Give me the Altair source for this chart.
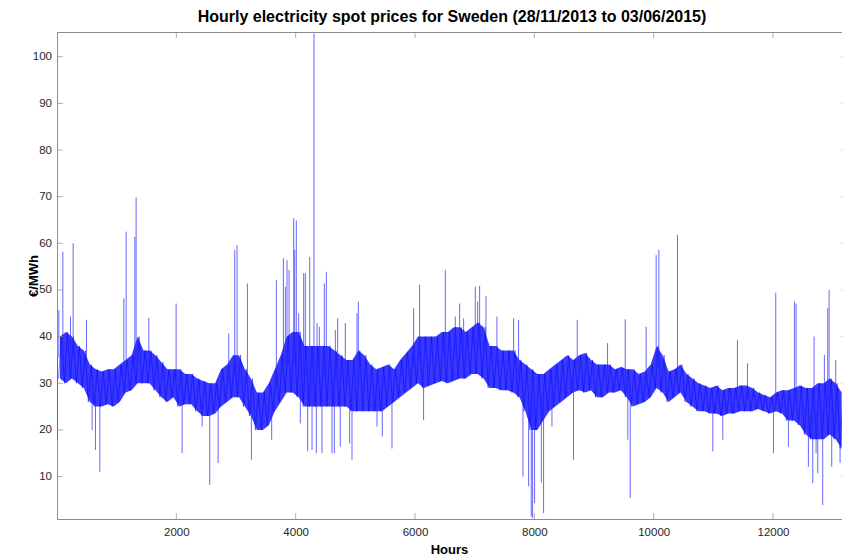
import altair as alt
import pandas as pd

# Hourly spot prices, Sweden. The bulk of the hourly swings is described per
# 100-hour block by the block's typical low and high price (EUR/MWh); isolated
# price spikes and dips are listed separately as (hour, price).
block_start_hour = list(range(0, 13200, 100))

band_low = [
    31, 30, 31, 30, 29, 26, 25, 25, 25.5, 25,
    26, 28, 28.5, 30, 30, 30, 28.5, 27, 26, 27,
    25, 25.5, 25.5, 24, 23, 23, 23.5, 25, 26, 27,
    27, 25, 23, 20, 20, 21, 24, 26, 28, 28,
    27, 25, 25, 25, 25, 25, 25, 25, 25, 24,
    24, 24, 24, 24, 24, 25, 26, 27, 28, 29,
    30, 29, 29.5, 30, 30.5, 30, 30.5, 31, 31, 32,
    32, 31, 29, 29, 28.5, 28.5, 28, 27, 24, 20,
    20, 22, 24, 25, 26, 27, 28, 28.5, 28, 28.5,
    27, 27, 28, 28, 28.5, 27, 25, 25.5, 26, 27,
    29, 28, 26, 27, 28, 26, 25, 24, 24, 23.5,
    23.5, 23, 23.5, 23.5, 24, 24, 24, 24.5, 24, 23.5,
    24, 23.5, 22, 22, 21, 19, 18, 18, 18, 19,
    18, 16,
]

band_high = [
    40, 41, 40, 38, 37, 34, 33, 32.5, 33, 33,
    34, 35, 36, 40, 37, 37, 36, 34.5, 33, 33,
    33, 32, 32, 31, 30.5, 30, 30, 33, 34, 36,
    36, 33, 31, 28, 28, 30, 33, 36, 40, 41,
    41, 38, 38, 38, 38, 38, 37, 36, 35, 35,
    37, 36, 34, 33, 33.5, 34, 33, 35, 36.5, 38,
    40, 40, 40, 40, 41, 41, 42, 42, 41, 42,
    43, 42, 38, 38, 37, 37, 37, 35, 34, 33,
    32, 32, 33, 34, 35, 36, 35, 36, 36.5, 35,
    34, 34, 34, 33, 33.5, 33, 33, 32, 32.5, 34,
    38, 36, 32.5, 33, 34, 32, 31, 30, 29.5, 29,
    29.5, 28.5, 29, 29, 29.5, 29.5, 29, 28, 27.5, 27,
    28, 28.5, 28.5, 29, 29.5, 29, 29, 30, 30, 31,
    30, 28,
]

spike_hour = [
    31, 98, 226, 271, 494, 1120, 1159, 1304, 1326, 1538,
    1996, 2878, 2979, 3018, 3191, 3676, 3794, 3827, 3855, 3889,
    3967, 3984, 4011, 4050, 4134, 4162, 4235, 4307, 4358, 4397,
    4480, 4514, 4665, 4704, 4832, 5028, 5050, 5977, 6077, 6508,
    6675, 6748, 6815, 7010, 7050, 7083, 7189, 7373, 7653, 7736,
    8719, 9227, 9523, 9874, 10042, 10087, 10399, 11404, 11572, 12046,
    12359, 12387, 12688, 12861, 12917, 12940, 13051,
]
spike_price = [
    45.7, 58.2, 44.3, 60, 43.6, 48.2, 62.5, 61.4, 69.8, 44,
    47.1, 40.7, 58.6, 59.6, 51.4, 52.1, 56.8, 50.7, 56.4, 54.3,
    65.4, 58.6, 64.9, 45, 53.6, 53.6, 57.1, 105, 42.9, 42.1,
    51.4, 53.9, 41.4, 43.9, 42.9, 45, 47.5, 46.1, 51.1, 54.3,
    44.3, 47.1, 43.9, 50.7, 47.5, 50.9, 48.7, 44.3, 43.9, 43.6,
    43.6, 38.6, 43.7, 42.1, 57.5, 58.6, 61.8, 39.3, 34.3, 49.4,
    47.5, 47.1, 40, 36.1, 46.1, 50, 35,
]

dip_hour = [
    3, 589, 645, 718, 2097, 2432, 2560, 2700, 3258, 3598,
    4078, 4201, 4274, 4346, 4441, 4609, 4648, 4748, 4905, 4944,
    5363, 5452, 5614, 6144, 7809, 7904, 7948, 7971, 8004, 8117,
    8155, 8295, 8657, 9567, 9607, 10991, 11159, 12007, 12258, 12593,
    12666, 12722, 12750, 12833, 12984, 13124,
]
dip_price = [
    18, 20, 15.7, 11, 15, 20.7, 8.2, 12.9, 13.6, 17.9,
    21.4, 15.4, 15.7, 15, 15, 15, 15, 16.4, 17.1, 13.6,
    20.7, 18.6, 16, 22.1, 10, 7.9, 1.4, 1.1, 4.3, 8.7,
    2.2, 20.7, 13.6, 17.9, 5.4, 15.4, 17.9, 15, 16.4, 12.1,
    8.6, 15, 10.7, 3.9, 12.1, 12.9,
]

y_tick_values = [10, 20, 30, 40, 50, 60, 70, 80, 90, 100]
x_tick_values = [2000, 4000, 6000, 8000, 10000, 12000]

# Band outline and a trace that swings between the block low and high
band = pd.DataFrame({
    "hour": [h + 50 for h in block_start_hour],
    "low": band_low,
    "high": band_high,
})
trace_rows = []
for h, lo, hi in zip(block_start_hour, band_low, band_high):
    trace_rows.append({"hour": h + 25, "price": lo})
    trace_rows.append({"hour": h + 75, "price": hi})
trace = pd.DataFrame(trace_rows)


def block_mid(hour):
    k = min(int(hour // 100), len(band_low) - 1)
    return (band_low[k] + band_high[k]) / 2


events = pd.DataFrame({
    "hour": spike_hour + dip_hour,
    "price": spike_price + dip_price,
})
events["base"] = [block_mid(h) for h in events["hour"]]

W, H = 790, 487
FONT = "Liberation Sans"
FRAME = "#8c8c8c"
TEXT = "#262626"
BLUE = "#0000ff"

x_scale = alt.Scale(domain=[0, 13240], nice=False, zero=False)
y_scale = alt.Scale(domain=[0.9, 105.3], nice=False, zero=False)

x_axis = alt.Axis(
    values=x_tick_values, format="d", ticks=False, domain=False, grid=False,
    labelFont=FONT, labelFontSize=11.5, labelColor=TEXT, labelPadding=7,
    title="Hours", titleFont=FONT, titleFontSize=13, titleFontWeight="bold",
    titleColor="#000000", titleX=392, titleY=30, titleBaseline="middle",
    titleAlign="center",
)
y_axis = alt.Axis(
    values=y_tick_values, format="d", ticks=False, domain=False, grid=False,
    labelFont=FONT, labelFontSize=11.5, labelColor=TEXT, labelPadding=5.5,
    title="€/MWh", titleFont=FONT, titleFontSize=13, titleFontWeight="bold",
    titleColor="#000000", titleAngle=270, titleX=-24, titleY=H / 2,
    titleAlign="center", titleBaseline="middle",
)

band_area = alt.Chart(band).mark_area(
    color=BLUE, opacity=0.78, clip=True
).encode(
    x=alt.X("hour:Q", scale=x_scale, axis=x_axis),
    y=alt.Y("low:Q", scale=y_scale, axis=y_axis),
    y2="high:Q",
)

band_trace = alt.Chart(trace).mark_line(
    color=BLUE, strokeWidth=0.7, opacity=0.7, clip=True
).encode(
    x=alt.X("hour:Q", scale=x_scale, axis=None),
    y=alt.Y("price:Q", scale=y_scale, axis=None),
)

event_rules = alt.Chart(events).mark_rule(
    color="#2828ff", strokeWidth=1, opacity=0.7, clip=True
).encode(
    x=alt.X("hour:Q", scale=x_scale, axis=None),
    y=alt.Y("price:Q", scale=y_scale, axis=None),
    y2="base:Q",
)

ytick_df = pd.DataFrame({"v": y_tick_values})
xtick_df = pd.DataFrame({"v": x_tick_values})
tick_style = dict(color=FRAME, thickness=1, size=6)

left_ticks = alt.Chart(ytick_df).mark_tick(orient="horizontal", **tick_style).encode(
    y=alt.Y("v:Q", scale=y_scale, axis=None), x=alt.value(3)
)
right_ticks = alt.Chart(ytick_df).mark_tick(orient="horizontal", **tick_style).encode(
    y=alt.Y("v:Q", scale=y_scale, axis=None), x=alt.value(W - 3)
)
bottom_ticks = alt.Chart(xtick_df).mark_tick(orient="vertical", **tick_style).encode(
    x=alt.X("v:Q", scale=x_scale, axis=None), y=alt.value(H - 3)
)
top_ticks = alt.Chart(xtick_df).mark_tick(orient="vertical", **tick_style).encode(
    x=alt.X("v:Q", scale=x_scale, axis=None), y=alt.value(3)
)

chart = alt.layer(
    band_area, band_trace, event_rules,
    left_ticks, right_ticks, bottom_ticks, top_ticks,
).resolve_axis(
    x="independent", y="independent"
).properties(
    width=W,
    height=H,
    title=alt.TitleParams(
        "Hourly electricity spot prices for Sweden (28/11/2013 to 03/06/2015)",
        font=FONT, fontSize=16, fontWeight="bold", color="#000000",
        anchor="middle", baseline="alphabetic", offset=-6,
    ),
    padding={"left": 57, "top": 32, "right": -5, "bottom": 40},
    autosize=alt.AutoSizeParams(type="none"),
    background="white",
).configure_view(stroke=FRAME, strokeWidth=1)

chart.save("out.html", embed_options={"renderer": "svg", "actions": False})
